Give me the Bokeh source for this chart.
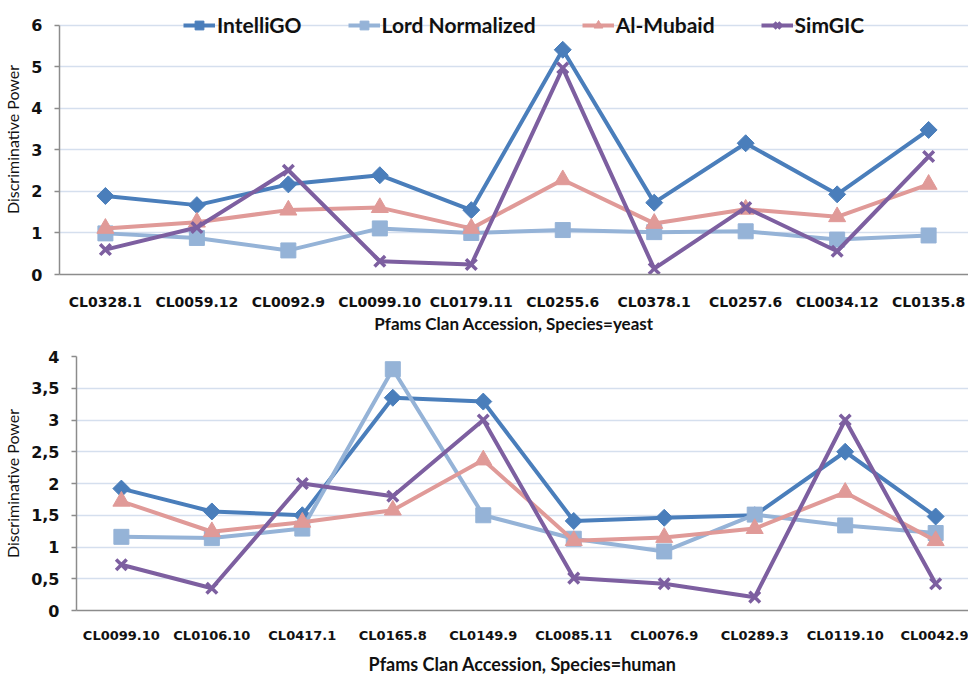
import math
from bokeh.plotting import figure
from bokeh.models import Range1d, FixedTicker, Legend, LegendItem
from bokeh.embed import file_html
from bokeh.resources import INLINE

series_names = ["IntelliGO", "Lord Normalized", "Al-Mubaid", "SimGIC"]

yeast_clans = ["CL0328.1", "CL0059.12", "CL0092.9", "CL0099.10", "CL0179.11",
               "CL0255.6", "CL0378.1", "CL0257.6", "CL0034.12", "CL0135.8"]
yeast_intelligo = [1.89, 1.67, 2.17, 2.39, 1.55, 5.41, 1.73, 3.16, 1.93, 3.48]
yeast_lord = [0.99, 0.88, 0.58, 1.11, 1.00, 1.07, 1.02, 1.04, 0.84, 0.94]
yeast_almubaid = [1.11, 1.26, 1.55, 1.61, 1.11, 2.28, 1.23, 1.57, 1.39, 2.17]
yeast_simgic = [0.60, 1.13, 2.51, 0.32, 0.24, 4.97, 0.14, 1.61, 0.56, 2.84]

human_clans = ["CL0099.10", "CL0106.10", "CL0417.1", "CL0165.8", "CL0149.9",
               "CL0085.11", "CL0076.9", "CL0289.3", "CL0119.10", "CL0042.9"]
human_intelligo = [1.92, 1.56, 1.50, 3.35, 3.29, 1.41, 1.46, 1.50, 2.50, 1.48]
human_lord = [1.16, 1.14, 1.29, 3.80, 1.50, 1.13, 0.93, 1.51, 1.34, 1.22]
human_almubaid = [1.72, 1.24, 1.39, 1.58, 2.37, 1.10, 1.15, 1.29, 1.86, 1.10]
human_simgic = [0.72, 0.35, 2.00, 1.80, 3.00, 0.51, 0.42, 0.21, 3.00, 0.42]

yeast_yticks = [0, 1, 2, 3, 4, 5, 6]
human_yticks = [0, 0.5, 1, 1.5, 2, 2.5, 3, 3.5, 4]
human_ytick_labels = ["0", "0,5", "1", "1,5", "2", "2,5", "3", "3,5", "4"]

colors = ["#4a7ebb", "#95b3d7", "#e09a98", "#7d5fa0"]
markers = ["square", "square", "triangle", "x"]
marker_angles = [math.pi / 4, 0, 0, 0]
marker_sizes = [12, 15, 17, 15]

LBL_FONT = "DejaVu Sans"
TITLE_FONT = "Lato"


def make_fig(height, clans, data, yticks, ylabels, ymax, yrange_end, xstart, xend,
             xlabel, border_top, border_left, border_bottom, tick_size,
             tick_standoff, xtitle_size, xtitle_standoff, with_legend):
    p = figure(width=968, height=height, output_backend="svg",
               toolbar_location=None,
               x_range=Range1d(xstart, xend), y_range=Range1d(0, yrange_end),
               min_border_top=border_top, min_border_left=border_left,
               min_border_right=0, min_border_bottom=border_bottom)
    p.outline_line_color = None
    p.xgrid.grid_line_color = None
    p.ygrid.grid_line_color = "#d5dfee"
    p.ygrid.grid_line_width = 1.5
    xs = list(range(len(clans)))
    p.xaxis.ticker = FixedTicker(ticks=xs)
    p.xaxis.major_label_overrides = {i: c for i, c in enumerate(clans)}
    p.yaxis.ticker = FixedTicker(ticks=yticks)
    p.yaxis.bounds = (0, ymax)
    if ylabels is not None:
        p.yaxis.major_label_overrides = {t: l for t, l in zip(yticks, ylabels)}
    for ax in (p.xaxis[0], p.yaxis[0]):
        ax.axis_line_color = "#8c8c8c"
        ax.axis_line_width = 1.5
        ax.minor_tick_line_color = None
        ax.minor_tick_out = 0
        ax.major_label_text_font = LBL_FONT
        ax.major_label_text_font_style = "bold"
        ax.major_label_text_color = "#111111"
        ax.axis_label_text_font = TITLE_FONT
        ax.axis_label_text_color = "#111111"
    p.xaxis.major_tick_line_color = None
    p.xaxis.major_tick_out = 0
    p.xaxis.major_tick_in = 0
    p.xaxis.major_label_text_font_size = tick_size
    p.xaxis.major_label_standoff = tick_standoff
    p.xaxis.axis_label = xlabel
    p.xaxis.axis_label_text_font_size = xtitle_size
    p.xaxis.axis_label_text_font_style = "bold"
    p.xaxis.axis_label_standoff = xtitle_standoff
    p.yaxis.major_tick_line_color = "#8c8c8c"
    p.yaxis.major_tick_line_width = 1.5
    p.yaxis.major_tick_in = 0
    p.yaxis.major_tick_out = 5
    p.yaxis.major_label_text_font_size = "16px"
    p.yaxis.major_label_standoff = 12
    p.yaxis.axis_label = "Discriminative Power"
    p.yaxis.axis_label_text_font_size = "16px"
    p.yaxis.axis_label_text_font_style = "normal"
    p.yaxis.axis_label_standoff = 6

    items = []
    for name, vals, c, m, a, s in zip(series_names, data, colors, markers,
                                      marker_angles, marker_sizes):
        r1 = p.line(xs, vals, line_color=c, line_width=4)
        if m == "x":
            r2 = p.scatter(xs, vals, marker=m, size=s, line_color=c, line_width=3.5)
        else:
            r2 = p.scatter(xs, vals, marker=m, size=s, angle=a,
                           fill_color=c, line_color=c)
        items.append(LegendItem(label=name, renderers=[r1, r2]))
    if with_legend:
        leg = Legend(items=items, orientation="horizontal",
                     location=(124, 237),
                     label_text_font=TITLE_FONT, label_text_font_style="bold",
                     label_text_font_size="21px", label_text_color="#111111",
                     glyph_width=32, glyph_height=22, label_standoff=2,
                     spacing=46, padding=2, margin=0,
                     background_fill_alpha=0, border_line_color=None)
        p.add_layout(leg, "center")
    return p


# top: 6 sits 252 px above the x axis; frame extended upward to hold the legend
p1 = make_fig(336, yeast_clans,
              [yeast_intelligo, yeast_lord, yeast_almubaid, yeast_simgic],
              yeast_yticks, None, 6, 6 * 273 / 252, -0.502, 9.436,
              "Pfams Clan Accession, Species=yeast", 4, 57, 59, "14px", 19,
              "17px", 0, True)
p2 = make_fig(341, human_clans,
              [human_intelligo, human_lord, human_almubaid, human_simgic],
              human_yticks, human_ytick_labels, 4, 4, -0.496, 9.363,
              "Pfams Clan Accession, Species=human", 20, 73, 62, "13px", 17,
              "18px", 7, False)

open("out.html", "w").write(file_html([p1, p2], INLINE))
